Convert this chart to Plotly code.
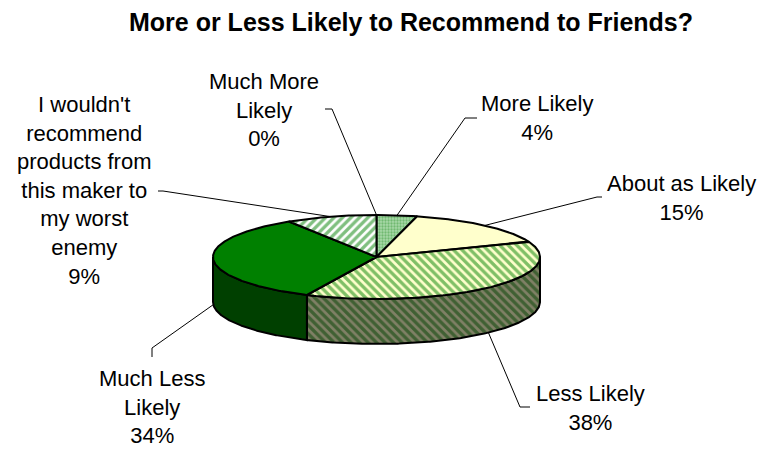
import numpy as np
import plotly.graph_objects as go

# ---- data -------------------------------------------------------------
categories = [
    "Much More<br>Likely",
    "More Likely",
    "About as Likely",
    "Less Likely",
    "Much Less<br>Likely",
    "I wouldn't<br>recommend<br>products from<br>this maker to<br>my worst<br>enemy",
]
values = [0, 4, 15, 38, 34, 9]
title_text = "More or Less Likely to Recommend to Friends?"

# ---- styles (top face, side face) -------------------------------------
top_styles = [
    dict(fillcolor="#80C080"),
    dict(fillcolor="#8CC98C", fillpattern=dict(shape=".", fgcolor="#3A9A3A", bgcolor="#A8D8A8", size=3, solidity=0.45)),
    dict(fillcolor="#FFFFCC"),
    dict(fillcolor="#FFFFCC", fillpattern=dict(shape="\\", fgcolor="#008000", bgcolor="#FFFFCC", size=6, solidity=0.55)),
    dict(fillcolor="#008000"),
    dict(fillcolor="#FFFFFF", fillpattern=dict(shape="/", fgcolor="#008000", bgcolor="#FFFFFF", size=6, solidity=0.55)),
]
side_styles = [
    dict(fillcolor="#406040"),
    dict(fillcolor="#466446", fillpattern=dict(shape=".", fgcolor="#1D4D1D", bgcolor="#546C54", size=3, solidity=0.45)),
    dict(fillcolor="#808066"),
    dict(fillcolor="#808066", fillpattern=dict(shape="\\", fgcolor="#004000", bgcolor="#808066", size=6, solidity=0.55)),
    dict(fillcolor="#004000"),
    dict(fillcolor="#808080", fillpattern=dict(shape="/", fgcolor="#004000", bgcolor="#808080", size=6, solidity=0.55)),
]

# ---- pie geometry (pixel space) ---------------------------------------
W, H = 763, 449
CX, CY, RX, RY, DEPTH = 376.5, 257.0, 163.5, 42.0, 45.0

# label block centres and leader-line elbows
label_pos = [(264, 110), (537, 118), (681, 198), (590, 408), (152, 407), (84, 190)]
leader_pts = [
    [(325, 109), (332, 109)],
    [(477, 118), (465, 118)],
    [(602, 197), (597, 197)],
    [(530, 407), (520, 407)],
    [(152, 357), (152, 348)],
    [(158, 191), (163, 191)],
]


def ell(theta, drop=0.0):
    t = np.radians(theta)
    return CX + RX * np.sin(t), CY - RY * np.cos(t) + drop


def arc(a, b, drop=0.0):
    n = max(int(abs(b - a) * 2), 2)
    th = np.linspace(a, b, n)
    xs, ys = ell(th, drop)
    return list(xs), list(ys)


total = float(sum(values))
bounds = np.concatenate([[0.0], np.cumsum(values) / total * 360.0])

fig = go.Figure()
edge = dict(color="black", width=2)

# leader lines from labels to slices
for i, v in enumerate(values):
    a, b = bounds[i], bounds[i + 1]
    mid = (a + b) / 2
    front = 90 < mid < 270
    ax_, ay_ = ell(mid, DEPTH if front else 0.0)
    (x0, y0), (x1, y1) = leader_pts[i]
    fig.add_trace(go.Scatter(x=[x0, x1, ax_], y=[y0, y1, ay_], mode="lines",
                             line=dict(color="black", width=1), hoverinfo="skip",
                             showlegend=False))

# side walls (front half only)
for i, v in enumerate(values):
    a, b = bounds[i], bounds[i + 1]
    lo, hi = max(a, 90.0), min(b, 270.0)
    if hi <= lo:
        continue
    tx, ty = arc(lo, hi)
    bx, by = arc(hi, lo, DEPTH)
    fig.add_trace(go.Scatter(x=tx + bx + [tx[0]], y=ty + by + [ty[0]], mode="lines",
                             fill="toself", line=edge, hoverinfo="skip",
                             showlegend=False, **side_styles[i]))

# top faces
for i, v in enumerate(values):
    a, b = bounds[i], bounds[i + 1]
    if b <= a:
        continue
    ax_, ay_ = arc(a, b)
    fig.add_trace(go.Scatter(x=[CX] + ax_ + [CX], y=[CY] + ay_ + [CY], mode="lines",
                             fill="toself", line=edge, hoverinfo="skip",
                             showlegend=False, **top_styles[i]))

annotations = [
    dict(x=411, y=22, xref="x", yref="y", text=f"<b>{title_text}</b>", showarrow=False,
         font=dict(family="Liberation Sans, Arial", size=25, color="black"),
         xanchor="center", yanchor="middle")
]
for i, v in enumerate(values):
    lx, ly = label_pos[i]
    annotations.append(dict(x=lx, y=ly, xref="x", yref="y",
                            text=f"{categories[i]}<br>{v}%", showarrow=False,
                            font=dict(family="Liberation Sans, Arial", size=22, color="black"),
                            xanchor="center", yanchor="middle", align="center"))

fig.update_layout(
    width=W, height=H, margin=dict(l=0, r=0, t=0, b=0),
    paper_bgcolor="white", plot_bgcolor="white",
    xaxis=dict(range=[0, W], visible=False, fixedrange=True),
    yaxis=dict(range=[H, 0], visible=False, fixedrange=True),
    annotations=annotations,
)

fig.write_html("out.html")
